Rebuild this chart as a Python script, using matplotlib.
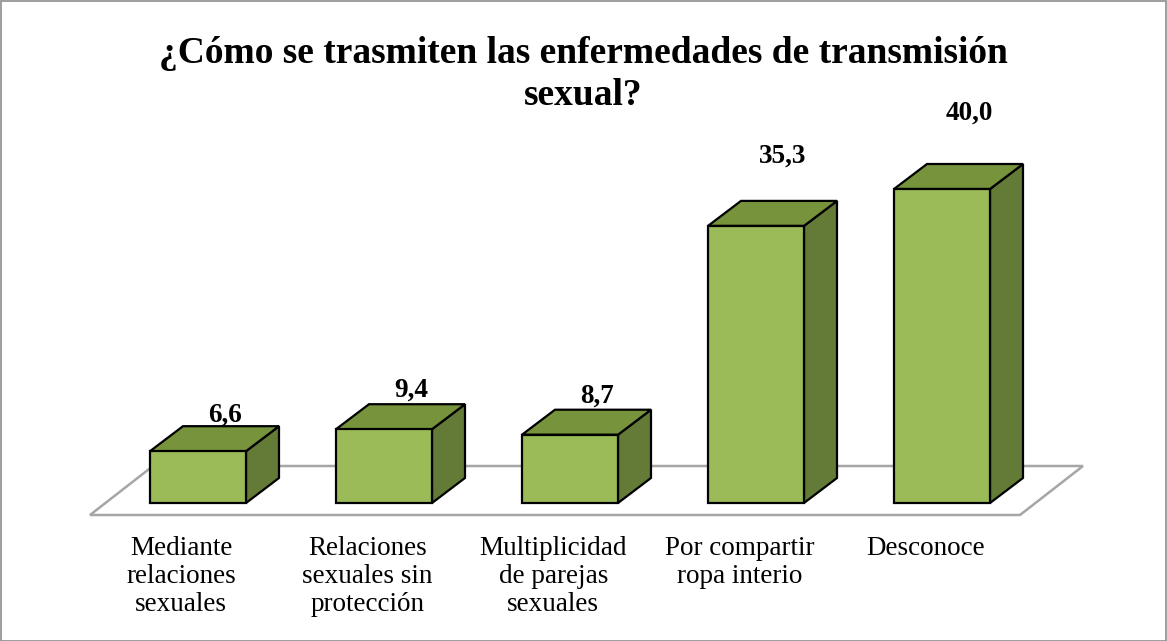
import matplotlib
matplotlib.use("Agg")
import matplotlib.pyplot as plt
from matplotlib.patches import Polygon, Rectangle

categories = ["Mediante\nrelaciones\nsexuales",
              "Relaciones\nsexuales sin\nprotección",
              "Multiplicidad\nde parejas\nsexuales",
              "Por compartir\nropa interio",
              "Desconoce"]
values = [6.6, 9.4, 8.7, 35.3, 40.0]
value_labels = ["6,6", "9,4", "8,7", "35,3", "40,0"]
title_lines = ["¿Cómo se trasmiten las enfermedades de transmisión", "sexual?"]

W, H = 1167, 641
fig = plt.figure(figsize=(W / 100, H / 100), dpi=100)
ax = fig.add_axes([0, 0, 1, 1])
px_x = 186.0   # pixels per category
px_y = 7.85    # pixels per value unit
x0_px, y0_px = 198.0, 503.0
ax.set_xlim(-x0_px / px_x, (W - x0_px) / px_x)
ax.set_ylim(-(H - y0_px) / px_y, y0_px / px_y)
ax.axis("off")

serif = ["Liberation Serif", "DejaVu Serif"]

front_c = "#9bbb59"
top_c = "#77933c"
side_c = "#647a37"

bw = 96 / px_x
ddx = 33 / px_x
ddy = 25 / px_y

# floor
fdx = 63 / px_x
fdy = 49 / px_y
fl, fr = -108 / px_x, 822 / px_x
fy = -12 / px_y
floor = Polygon([(fl, fy), (fr, fy), (fr + fdx, fy + fdy), (fl + fdx, fy + fdy)],
                closed=True, facecolor="white", edgecolor="#a6a6a6", lw=1.8, zorder=1)
ax.add_patch(floor)

for i, v in enumerate(values):
    l = i - bw / 2
    r = i + bw / 2
    ax.add_patch(Polygon([(r, 0), (r + ddx, ddy), (r + ddx, v + ddy), (r, v)],
                         closed=True, facecolor=side_c, edgecolor="black", lw=1.6, zorder=3))
    ax.add_patch(Polygon([(l, v), (r, v), (r + ddx, v + ddy), (l + ddx, v + ddy)],
                         closed=True, facecolor=top_c, edgecolor="black", lw=1.6, zorder=3))
    ax.add_patch(Rectangle((l, 0), bw, v, facecolor=front_c, edgecolor="black",
                           lw=1.6, zorder=4))
    ax.text(i + 0.145, v * 1.15 + 3.6, value_labels[i], ha="center", va="center",
            fontsize=19.5, fontweight="bold", family=serif, zorder=5)
    ax.text(i - 0.09, -33 / px_y, categories[i], ha="center", va="top",
            fontsize=19.5, family=serif, linespacing=1.17, zorder=5)

for k, line in enumerate(title_lines):
    fig.text(0.5, 1 - (63 + 42 * k) / H, line, ha="center", va="baseline",
             fontsize=27, fontweight="bold", family=serif)

fig.add_artist(Rectangle((0.5 / W, 0.5 / H), 1 - 1.5 / W, 1 - 1.5 / H,
                         transform=fig.transFigure, fill=False,
                         edgecolor="#8c8c8c", lw=1.2))

fig.savefig("out.png", dpi=100)
